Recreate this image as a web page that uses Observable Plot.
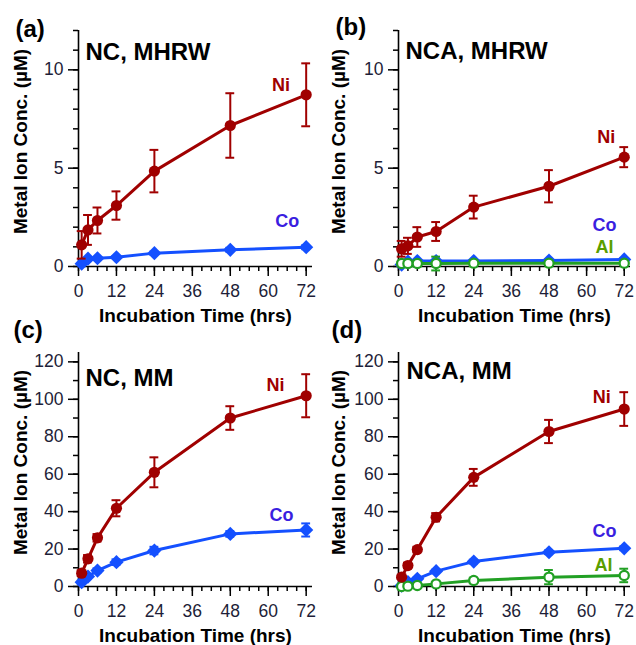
<!DOCTYPE html>
<html><head><meta charset="utf-8">
<script src="https://cdn.jsdelivr.net/npm/d3@7"></script>
<script src="https://cdn.jsdelivr.net/npm/@observablehq/plot@0.6"></script>
<style>
body{margin:0;background:#fff;}
#wrap{position:relative;width:636px;height:645px;background:#fff;font-family:"Liberation Sans",Arial,sans-serif;}
#wrap svg{position:absolute;overflow:visible;}
</style></head><body><div id="wrap"></div>
<script>
// ---- data ----
const time = [1, 3, 6, 12, 24, 48, 72];
const xTickLabels = [0, 12, 24, 36, 48, 60, 72];

// (a) NC, MHRW
const aNi = [1.10, 1.86, 2.34, 3.10, 4.85, 7.17, 8.73];
const aNiErr = [0.70, 0.76, 0.66, 0.72, 1.08, 1.64, 1.60];
const aCo = [0.14, 0.40, 0.42, 0.47, 0.68, 0.85, 0.98];
const aCoErr = [0.05, 0.05, 0.05, 0.05, 0.08, 0.10, 0.10];

// (b) NCA, MHRW
const bNi = [0.90, 1.05, 1.50, 1.78, 3.02, 4.08, 5.56];
const bNiErr = [0.40, 0.41, 0.50, 0.48, 0.58, 0.82, 0.51];
const bCo = [0.10, 0.25, 0.28, 0.28, 0.28, 0.30, 0.36];
const bCoErr = [0.05, 0.05, 0.05, 0.05, 0.05, 0.05, 0.05];
const bAl = [0.15, 0.15, 0.15, 0.15, 0.17, 0.17, 0.17];
const bAlErr = [0.10, 0.15, 0.15, 0.35, 0.15, 0.10, 0.10];

// (c) NC, MM
const cNi = [7.1, 14.8, 26.0, 41.8, 61.0, 90.0, 101.9];
const cNiErr = [1.5, 2.0, 2.0, 4.3, 8.0, 6.3, 11.5];
const cCo = [2.3, 5.3, 8.5, 13.0, 19.2, 28.1, 30.2];
const cCoErr = [0.8, 1.0, 1.2, 1.5, 2.0, 1.5, 3.5];

// (d) NCA, MM
const dNi = [5.0, 11.2, 19.7, 37.0, 58.3, 82.8, 94.8];
const dNiErr = [1.0, 1.5, 1.5, 2.2, 4.5, 6.2, 9.0];
const dCo = [0.5, 2.3, 4.1, 8.2, 13.3, 18.3, 20.4];
const dCoErr = [0.3, 0.5, 0.6, 0.8, 1.0, 1.0, 1.0];
const dAl = [0.0, 0.2, 0.5, 1.4, 3.2, 5.0, 5.9];
const dAlErr = [0.2, 0.3, 0.4, 0.8, 1.5, 3.8, 3.6];

const xLabel = "Incubation Time (hrs)";
const yLabel = "Metal Ion Conc. (µM)";

// ---- styles ----
const NI = "#a00000", CO = "#1450ff", AL = "#22a024";
const NI_T = "#a00000", CO_T = "#3a1ee0", AL_T = "#5a9e00";
const FONT = "Liberation Sans, Arial, sans-serif";

const ni = (v, e, lx, ly) => ({name: "Ni", values: v, errors: e, color: NI, tcolor: NI_T, symbol: "circle", r: 5.6, fill: NI, lx, ly});
const co = (v, e, lx, ly) => ({name: "Co", values: v, errors: e, color: CO, tcolor: CO_T, symbol: "diamond2", r: 6.4, fill: CO, lx, ly});
const al = (v, e, lx, ly) => ({name: "Al", values: v, errors: e, color: AL, tcolor: AL_T, symbol: "circle", r: 4.6, fill: "white", open: true, lx, ly});

const panels = [
  {letter: "(a)", title: "NC, MHRW", left: 0, top: 0, ml: 78, mt: 30, yMax: 12, yMajor: [0, 5, 10], yMinor: d3.range(0, 13, 1),
   lt: [-63, -1], tt: [7, 12], series: [co(aCo, aCoErr, 66, 2.03), ni(aNi, aNiErr, 64, 8.93)]},
  {letter: "(b)", title: "NCA, MHRW", left: 318, top: 0, ml: 80, mt: 30, yMax: 12, yMajor: [0, 5, 10], yMinor: d3.range(0, 13, 1),
   lt: [-63, -3], tt: [7, 11], series: [co(bCo, bCoErr, 65.7, 1.83), al(bAl, bAlErr, 65.7, 0.68), ni(bNi, bNiErr, 66.3, 6.3)]},
  {letter: "(c)", title: "NC, MM", left: 0, top: 320, ml: 78, mt: 32, yMax: 125, yMajor: d3.range(0, 121, 20), yMinor: d3.range(0, 121, 10),
   lt: [-65, -22], tt: [7, 16], series: [co(cCo, cCoErr, 64.2, 35.2), ni(cNi, cNiErr, 62.3, 104.5)]},
  {letter: "(d)", title: "NCA, MM", left: 318, top: 320, ml: 80, mt: 32, yMax: 125, yMajor: d3.range(0, 121, 20), yMinor: d3.range(0, 121, 10),
   lt: [-67, -22], tt: [8, 9], series: [co(dCo, dCoErr, 65.7, 26.5), al(dAl, dAlErr, 65.4, 8.5), ni(dNi, dNiErr, 64.8, 98)]}
];

function build(p) {
  const W = 318, H = 322, mb = H - 266;
  const marks = [];
  for (const s of p.series) {
    const d = time.map((t, i) => ({t, v: s.values[i], lo: s.values[i] - s.errors[i], hi: s.values[i] + s.errors[i]}));
    marks.push(Plot.line(d, {x: "t", y: "v", stroke: s.color, strokeWidth: 3}));
    marks.push(Plot.ruleX(d, {x: "t", y1: "lo", y2: "hi", stroke: s.color, strokeWidth: 2}));
    marks.push(Plot.ruleY(d, {y: "lo", x1: (r) => r.t - 1.4, x2: (r) => r.t + 1.4, stroke: s.color, strokeWidth: 2}));
    marks.push(Plot.ruleY(d, {y: "hi", x1: (r) => r.t - 1.4, x2: (r) => r.t + 1.4, stroke: s.color, strokeWidth: 2}));
    marks.push(Plot.dot(d, {x: "t", y: "v", symbol: s.symbol, r: s.r, fill: s.fill,
      stroke: s.open ? s.color : "none", strokeWidth: s.open ? 2.2 : 0}));
    marks.push(Plot.text([s.name], {x: () => s.lx, y: () => s.ly, text: (d) => d, fill: s.tcolor,
      fontSize: 18, fontWeight: "bold", textAnchor: "middle", lineAnchor: "bottom"}));
  }
  const chart = Plot.plot({
    width: W, height: H,
    marginLeft: p.ml, marginRight: W - 312, marginTop: p.mt, marginBottom: mb,
    style: {background: "transparent", overflow: "visible", fontFamily: FONT, color: "#000"},
    x: {domain: [0, 74]},
    y: {domain: [0, p.yMax]},
    marks: [
      Plot.ruleX([0], {stroke: "#000", strokeWidth: 1.6}),
      Plot.ruleY([0], {stroke: "#000", strokeWidth: 1.6}),
      Plot.axisX({ticks: d3.range(0, 73, 3), tickSize: 5, text: null, label: null, strokeWidth: 1.5}),
      Plot.axisX({ticks: xTickLabels, tickSize: 10, tickPadding: 8, fontSize: 17.5, label: null, strokeWidth: 1.5, fill: "#1e1e38", tickFormat: (d) => String(d)}),
      Plot.axisY({ticks: p.yMinor, tickSize: 5, text: null, label: null, strokeWidth: 1.5}),
      Plot.axisY({ticks: p.yMajor, tickSize: 10, tickPadding: 5, fontSize: 17.5, label: null, strokeWidth: 1.5, fill: "#1e1e38", tickFormat: (d) => String(d)}),
      Plot.text([xLabel], {frameAnchor: "bottom", text: (d) => d, dy: 42, lineAnchor: "top", fontSize: 19, fontWeight: "bold"}),
      Plot.text([yLabel], {frameAnchor: "left", text: (d) => d, rotate: -90, dx: 20 - p.ml, dy: -7, lineAnchor: "middle", textAnchor: "middle", fontSize: 19, fontWeight: "bold"}),
      Plot.text([p.letter], {frameAnchor: "top-left", text: (d) => d, dx: p.lt[0], dy: p.lt[1], textAnchor: "start", lineAnchor: "middle", fontSize: 24, fontWeight: "bold"}),
      Plot.text([p.title], {frameAnchor: "top-left", text: (d) => d, dx: p.tt[0], dy: p.tt[1], textAnchor: "start", lineAnchor: "top", fontSize: 24, fontWeight: "bold"}),
      ...marks
    ]
  });
  chart.style.left = p.left + "px";
  chart.style.top = p.top + "px";
  return chart;
}

const wrap = document.getElementById("wrap");
for (const p of panels) wrap.appendChild(build(p));
</script>
</body></html>
